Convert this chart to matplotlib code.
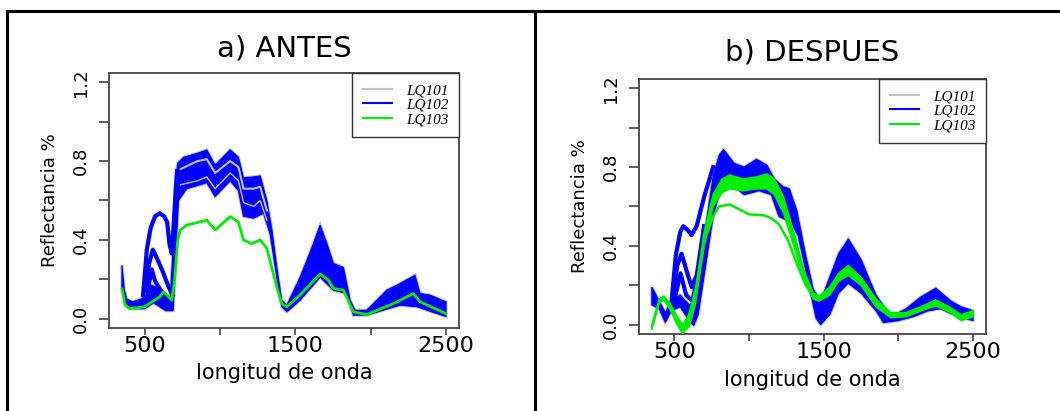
import matplotlib
matplotlib.use("Agg")
import matplotlib.pyplot as plt
from matplotlib.lines import Line2D

# ---------------- a) ANTES ----------------
a_band_w = [350, 365, 380, 420, 480, 510, 540, 580, 640, 670, 685, 700, 720, 760, 850, 913, 968,
            1068, 1123, 1156, 1223, 1267, 1311, 1345, 1377, 1410, 1444, 1532, 1600, 1665, 1710,
            1753, 1819, 1864, 1897, 1974, 2107, 2195, 2294, 2328, 2394, 2500]
a_band_hi = [0.27, 0.15, 0.10, 0.085, 0.10, 0.12, 0.17, 0.16, 0.12, 0.10, 0.30, 0.65, 0.79, 0.82,
             0.84, 0.857, 0.78, 0.857, 0.82, 0.715, 0.72, 0.725, 0.60, 0.45, 0.26, 0.093, 0.068,
             0.21, 0.34, 0.475, 0.38, 0.28, 0.26, 0.093, 0.042, 0.042, 0.144, 0.178, 0.22, 0.127,
             0.119, 0.085]
a_lo_w = [350, 380, 420, 500, 560, 640, 690, 705, 725, 780, 913, 968, 1068, 1123, 1156, 1223,
          1289, 1333, 1377, 1410, 1444, 1532, 1665, 1753, 1841, 1885, 1974, 2195, 2305, 2500]
a_band_lo = [0.15, 0.07, 0.05, 0.05, 0.08, 0.04, 0.04, 0.30, 0.60, 0.66, 0.69, 0.62, 0.70, 0.65,
             0.52, 0.51, 0.535, 0.43, 0.21, 0.06, 0.034, 0.093, 0.21, 0.144, 0.127, 0.017, 0.017,
             0.068, 0.06, 0.01]
a_gray_w = [740, 850, 913, 968, 1068, 1123, 1156, 1223, 1267, 1311]
a_gray_1 = [0.76, 0.80, 0.81, 0.74, 0.80, 0.77, 0.66, 0.66, 0.67, 0.55]
a_gray_2 = [0.68, 0.70, 0.72, 0.66, 0.74, 0.70, 0.59, 0.57, 0.60, 0.50]
a_blue1_w = [490, 515, 540, 570, 600, 630, 650, 665, 680, 695, 715]
a_blue1 = [0.12, 0.35, 0.46, 0.52, 0.535, 0.52, 0.49, 0.38, 0.33, 0.50, 0.75]
a_blue2_w = [510, 530, 555, 580, 620, 660, 685]
a_blue2 = [0.14, 0.28, 0.35, 0.31, 0.24, 0.16, 0.12]
a_blue3_w = [520, 548, 570, 610, 660]
a_blue3 = [0.14, 0.25, 0.19, 0.14, 0.10]
a_green_w = [350, 370, 400, 450, 500, 550, 600, 626, 660, 680, 700, 720, 736, 780, 913, 968,
             1068, 1123, 1156, 1212, 1267, 1311, 1377, 1410, 1444, 1532, 1665, 1720, 1753, 1819,
             1885, 1974, 2151, 2283, 2328, 2500]
a_green = [0.15, 0.07, 0.05, 0.055, 0.06, 0.085, 0.11, 0.135, 0.11, 0.093, 0.20, 0.40, 0.45,
           0.475, 0.50, 0.45, 0.518, 0.49, 0.40, 0.38, 0.40, 0.357, 0.16, 0.076, 0.06, 0.12,
           0.226, 0.195, 0.153, 0.144, 0.034, 0.02, 0.076, 0.127, 0.085, 0.025]

# ---------------- b) DESPUES ----------------
b_hi_w = [350, 400, 440, 480, 540, 600, 640, 700, 760, 800, 830, 900, 968, 1050, 1120, 1170,
          1230, 1270, 1320, 1380, 1430, 1480, 1530, 1600, 1665, 1750, 1850, 1950, 2050, 2150,
          2250, 2350, 2420, 2500]
b_band_hi = [0.19, 0.12, 0.06, 0.12, 0.15, 0.10, 0.12, 0.45, 0.75, 0.86, 0.89, 0.82, 0.80, 0.84,
             0.81, 0.74, 0.70, 0.69, 0.58, 0.35, 0.18, 0.12, 0.22, 0.36, 0.435, 0.33, 0.15, 0.04,
             0.08, 0.14, 0.185, 0.12, 0.09, 0.07]
b_lo_w = [350, 400, 440, 480, 540, 600, 630, 660, 700, 760, 800, 870, 968, 1068, 1150, 1200,
          1280, 1330, 1400, 1450, 1480, 1540, 1600, 1665, 1750, 1850, 1900, 2000, 2100, 2200,
          2280, 2400, 2500]
b_band_lo = [0.10, 0.08, 0.01, 0.07, 0.09, 0.02, -0.005, 0.05, 0.25, 0.55, 0.66, 0.72, 0.66,
             0.68, 0.66, 0.55, 0.52, 0.45, 0.20, 0.03, 0.0, 0.05, 0.16, 0.21, 0.16, 0.07, 0.01,
             0.02, 0.04, 0.07, 0.08, 0.04, 0.02]
b_blue1_w = [480, 510, 540, 560, 590, 616, 650, 700, 760]
b_blue1 = [0.10, 0.35, 0.47, 0.50, 0.48, 0.455, 0.50, 0.65, 0.80]
b_blue2_w = [490, 520, 549, 580, 616, 650, 700]
b_blue2 = [0.12, 0.30, 0.36, 0.28, 0.19, 0.25, 0.50]
b_blue3_w = [500, 542, 580, 620, 660, 700]
b_blue3 = [0.12, 0.26, 0.15, 0.12, 0.25, 0.50]
b_green_w = [350, 400, 430, 470, 520, 555, 600, 640, 700, 760, 820, 870, 960, 1050, 1120, 1170,
             1230, 1300, 1370, 1430, 1470, 1540, 1600, 1665, 1750, 1850, 1950, 2050, 2150, 2250,
             2350, 2420, 2500]
b_green_hi = [0.0, 0.13, 0.145, 0.11, 0.04, 0.0, 0.05, 0.16, 0.47, 0.66, 0.74, 0.76, 0.74, 0.75,
              0.765, 0.74, 0.65, 0.47, 0.27, 0.16, 0.145, 0.19, 0.26, 0.30, 0.24, 0.13, 0.06,
              0.06, 0.09, 0.125, 0.085, 0.05, 0.07]
b_green_lo = [-0.025, 0.11, 0.125, 0.08, 0.0, -0.045, -0.01, 0.10, 0.40, 0.60, 0.67, 0.69, 0.68,
              0.69, 0.69, 0.66, 0.57, 0.40, 0.22, 0.13, 0.12, 0.15, 0.22, 0.25, 0.20, 0.09, 0.035,
              0.04, 0.07, 0.095, 0.06, 0.02, 0.04]
b_green_low_w = [600, 650, 700, 760, 800, 870, 950, 1000, 1100, 1150, 1200, 1260, 1320, 1380, 1430]
b_green_low = [0.05, 0.20, 0.42, 0.55, 0.60, 0.61, 0.58, 0.56, 0.555, 0.54, 0.51, 0.43, 0.31, 0.20, 0.15]

titles = ["a) ANTES", "b) DESPUES"]
labels = ["LQ101", "LQ102", "LQ103"]
BLUE, GREEN, GRAY = "#0000ff", "#00ee00", "#c0c0c0"
sans = "DejaVu Sans"

fig = plt.figure(figsize=(10.6, 4.11), dpi=100)
W, H = 1060, 411
axA = fig.add_axes([109 / W, 1 - 328 / H, 350 / W, 255 / H])
axB = fig.add_axes([639 / W, 1 - 334 / H, 347 / W, 255 / H])

# panel a
polyA_w = a_band_w + a_lo_w[::-1]
polyA_r = a_band_hi + a_band_lo[::-1]
axA.fill(polyA_w, polyA_r, fc=BLUE, ec=GRAY, lw=2.2, zorder=2)
axA.fill(polyA_w, polyA_r, fc=BLUE, ec=BLUE, lw=0.8, zorder=3)
for wv, r in [(a_blue1_w, a_blue1), (a_blue2_w, a_blue2), (a_blue3_w, a_blue3)]:
    axA.plot(wv, r, color=BLUE, lw=3, zorder=3)
axA.plot(a_gray_w, a_gray_1, color=GRAY, lw=1.5, zorder=4)
axA.plot(a_gray_w, a_gray_2, color=GRAY, lw=1.0, zorder=4)
axA.plot(a_green_w, a_green, color=GREEN, lw=2, zorder=5)

# panel b
polyB_w = b_hi_w + b_lo_w[::-1]
polyB_r = b_band_hi + b_band_lo[::-1]
axB.fill(polyB_w, polyB_r, fc=BLUE, ec=GRAY, lw=2.2, zorder=2)
axB.fill(polyB_w, polyB_r, fc=BLUE, ec=BLUE, lw=0.8, zorder=3)
for wv, r in [(b_blue1_w, b_blue1), (b_blue2_w, b_blue2), (b_blue3_w, b_blue3)]:
    axB.plot(wv, r, color=BLUE, lw=3, zorder=3)
axB.fill(b_green_w + b_green_w[::-1], b_green_hi + b_green_lo[::-1], fc=GREEN, ec=GREEN, lw=1.2, zorder=5)
axB.plot(b_green_low_w, b_green_low, color=GREEN, lw=1.8, zorder=5)

for ax, t, tpad, xl_y, yl_x in [(axA, titles[0], 12, -0.176, -0.169),
                                (axB, titles[1], 13, -0.18, -0.17)]:
    ax.set_xlim(264, 2586)
    ax.set_ylim(-0.048, 1.248)
    ax.set_xticks([500, 1000, 1500, 2000, 2500])
    ax.set_xticklabels(["500", "", "1500", "", "2500"], fontsize=16, family=sans)
    ax.set_yticks([0, 0.2, 0.4, 0.6, 0.8, 1.0, 1.2])
    ax.set_yticklabels(["0.0", "", "0.4", "", "0.8", "", "1.2"], fontsize=13, family=sans,
                       rotation=90, va="center")
    ax.tick_params(axis="x", length=5, width=1.2, color="#444444", pad=1)
    ax.tick_params(axis="y", length=7, width=1.2, color="#444444", pad=7)
    for s in ax.spines.values():
        s.set_color("#444444")
        s.set_linewidth(1.3)
    ax.set_title(t, fontsize=21, family=sans, pad=tpad)
    ax.set_xlabel("longitud de onda", fontsize=15, family=sans, va="center")
    ax.xaxis.set_label_coords(0.5, xl_y)
    ax.set_ylabel("Reflectancia %", fontsize=13, family=sans, va="center")
    ax.yaxis.set_label_coords(yl_x, 0.5)
    handles = [Line2D([], [], color=GRAY, lw=1.5), Line2D([], [], color=BLUE, lw=1.5),
               Line2D([], [], color=GREEN, lw=1.5)]
    leg = ax.legend(handles, labels, loc="upper right", borderaxespad=0, fancybox=False,
                    framealpha=1, edgecolor="#333333", handlelength=1.9, handletextpad=0.9,
                    labelspacing=0.05, borderpad=0.7,
                    prop={"family": "Liberation Serif", "style": "italic", "size": 11})
    leg.get_frame().set_linewidth(1.0)
    leg.set_zorder(10)

# table frame around the two panels
for xs, ys in [([7 / W, 1], [1 - 11 / H, 1 - 11 / H]), ([7 / W, 7 / W], [0, 1 - 11 / H]),
               ([534.5 / W, 534.5 / W], [0, 1 - 11 / H])]:
    fig.add_artist(Line2D(xs, ys, color="black", lw=2.2))

fig.savefig("out.png", dpi=100)
